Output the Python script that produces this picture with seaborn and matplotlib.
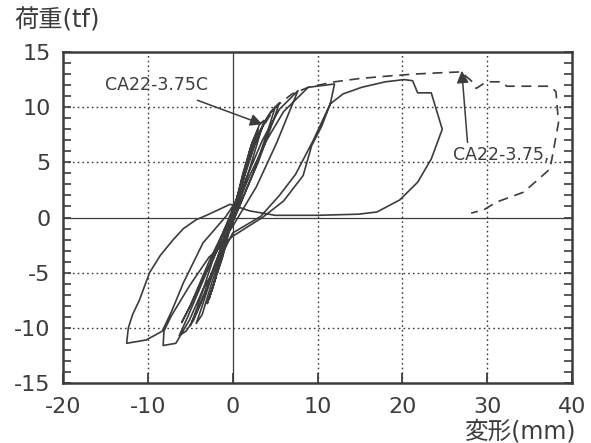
import matplotlib
matplotlib.use("Agg")
import matplotlib.pyplot as plt
import seaborn as sns
import pandas as pd
from matplotlib.ticker import MultipleLocator

# ---- data ----
solid_x = [0.0,
           0.8, 1.8, 1.3, 0.4, -0.4, -1.2, -1.8, -1.2, -0.4, 0.2,
           1.2, 2.3, 3.0, 2.3, 1.0, 0.0, -0.9, -2.0, -3.0, -2.3, -1.0, 0.0,
           1.0, 2.0, 2.8, 2.0, 0.8, -0.2, -1.2, -2.2, -2.8, -2.0, -0.8, 0.1,
           1.0, 2.2, 3.2, 3.7, 3.0, 1.6, 0.2, -1.0, -2.5, -3.6, -4.3, -3.5, -1.6, 0.0,
           1.2, 3.0, 4.5, 5.5, 4.8, 3.0, 1.2, 0.0, -1.2, -3.0, -4.6, -5.5, -6.3, -5.3, -3.2, -1.2, 0.0,
           1.0, 2.6, 4.0, 5.0, 4.2, 2.6, 0.8, -0.6, -2.2, -3.8, -5.0, -4.2, -2.4, -0.6, 0.4,
           1.5, 3.5, 5.5, 7.7, 7.0, 5.2, 2.8, 0.0, -1.5, -3.5, -5.0, -6.0, -5.0, -2.8, -0.6, 0.6,
           2.0, 4.0, 6.0, 8.9, 12.0, 11.5, 10.5, 9.3, 8.3, 6.0, 3.5, 0.0, -2.8, -5.1, -7.3, -8.1, -8.2,
           -6.7, -5.1, -3.5, -2.0, 0.0,
           3.3, 5.5, 7.4, 9.5, 11.5, 13.0, 15.2, 18.0, 20.2, 21.2, 21.8, 23.4, 24.7, 23.4, 21.8, 19.7,
           17.0, 14.8, 10.0, 5.0, 2.0, -0.3, -2.8, -4.3, -5.8, -7.0, -8.5, -9.8, -11.0, -11.8, -12.3,
           -12.5, -10.2, -8.3, -7.2, -5.8, -3.5, -0.8, 0.5]
solid_y = [0.0,
           2.6, 5.2, 3.8, 1.2, -1.0, -3.5, -5.0, -3.6, -1.2, 0.8,
           4.0, 6.8, 8.0, 6.2, 2.8, 0.0, -2.3, -5.5, -7.8, -6.2, -2.6, 0.4,
           3.0, 6.0, 7.6, 5.6, 2.2, -0.4, -3.0, -6.0, -7.4, -5.4, -2.0, 0.6,
           3.2, 6.6, 8.5, 8.8, 7.0, 3.4, 0.0, -2.4, -6.0, -8.8, -9.6, -7.8, -3.2, 0.6,
           3.5, 7.6, 9.6, 10.4, 8.8, 5.0, 1.8, -0.4, -2.6, -6.4, -9.3, -10.3, -10.7, -9.0, -5.2, -1.5, 0.8,
           2.8, 6.6, 9.0, 10.0, 8.0, 4.4, 1.0, -1.4, -4.4, -7.8, -9.8, -8.2, -4.0, -0.6, 1.0,
           3.4, 7.0, 9.8, 11.5, 10.2, 6.8, 2.8, -0.8, -2.5, -5.5, -8.0, -9.5, -8.0, -4.0, -0.5, 1.2,
           3.8, 7.0, 9.6, 11.8, 12.1, 10.3, 8.3, 6.5, 3.8, 1.5, 0.0, -1.7, -3.6, -6.2, -9.0, -10.3, -11.6,
           -11.4, -9.3, -6.5, -4.5, -1.4,
           0.1, 2.0, 3.9, 7.0, 10.3, 11.2, 11.8, 12.3, 12.5, 12.4, 11.3, 11.3, 8.0, 5.3, 3.2, 1.6,
           0.5, 0.3, 0.2, 0.2, 0.6, 1.2, 0.3, -0.2, -1.0, -2.0, -3.4, -5.0, -7.5, -8.8, -10.0,
           -11.4, -11.1, -10.3, -8.5, -5.9, -2.3, 0.1, 1.6]

dashed_x = [0.0, 1.5, 3.0, 5.0, 7.0, 8.9, 12.0, 15.0, 18.0, 21.4, 24.0, 26.9, 28.1, 28.7, 29.9,
            31.7, 32.3, 33.1, 37.4, 38.1, 38.4, 37.4, 34.3, 31.1, 29.6, 28.1]
dashed_y = [0.0, 4.5, 7.5, 10.0, 11.2, 11.8, 12.3, 12.6, 12.8, 13.0, 13.1, 13.2, 12.4, 11.7, 12.3,
            12.3, 11.9, 11.9, 11.9, 11.4, 8.6, 4.4, 2.3, 1.4, 0.7, 0.4]

x_ticks = [-20, -10, 0, 10, 20, 30, 40]
y_ticks = [-15, -10, -5, 0, 5, 10, 15]
label_c = "CA22-3.75C"
label_d = "CA22-3.75,"
y_title = "荷重(tf)"
x_title = "変形(mm)"

# ---- style ----
sns.set_theme(style="white")
plt.rcParams['font.family'] = ['DejaVu Sans', 'Noto Sans CJK JP']
ink = "#3c3c3c"

fig = plt.figure(figsize=(5.91, 4.43), dpi=100)
ax = fig.add_axes([0.1066, 0.1354, 0.8614, 0.7472])

df_s = pd.DataFrame({"x": solid_x, "y": solid_y})
df_d = pd.DataFrame({"x": dashed_x, "y": dashed_y})
sns.lineplot(data=df_s, x="x", y="y", sort=False, estimator=None, color=ink,
             linewidth=1.2, ax=ax)
sns.lineplot(data=df_d, x="x", y="y", sort=False, estimator=None, color=ink,
             linewidth=1.2, linestyle=(0, (6, 4)), ax=ax)

ax.set_xlim(-20, 40)
ax.set_ylim(-15, 15)
ax.set_xticks(x_ticks)
ax.set_yticks(y_ticks)
ax.set_xticklabels([str(t) for t in x_ticks])
ax.set_yticklabels([str(t) for t in y_ticks])
ax.yaxis.set_minor_locator(MultipleLocator(1))
ax.set_xlabel("")
ax.set_ylabel("")

# grid
for gx in x_ticks[1:-1]:
    if gx == 0:
        ax.axvline(gx, color=ink, lw=0.9, zorder=0)
    else:
        ax.axvline(gx, color=ink, lw=1.0, ls=(0, (1.2, 2.2)), zorder=0)
for gy in y_ticks[1:-1]:
    if gy == 0:
        ax.axhline(gy, color=ink, lw=0.9, zorder=0)
    else:
        ax.axhline(gy, color=ink, lw=1.0, ls=(0, (1.2, 2.2)), zorder=0)

for s in ax.spines.values():
    s.set_color(ink)
    s.set_linewidth(1.8)

ax.tick_params(axis="x", which="major", direction="in", length=7, width=1.3,
               color=ink, labelsize=16, labelcolor=ink, pad=10, top=False, bottom=True)
ax.tick_params(axis="y", which="both", direction="in", length=6, width=1.2,
               color=ink, labelsize=16, labelcolor=ink, pad=9, left=True, right=True)

# annotations
ax.annotate(label_c, xy=(3.5, 8.45), xytext=(-9.0, 12.0), fontsize=12.5, color=ink,
            ha="center", va="center",
            arrowprops=dict(arrowstyle="-|>", color=ink, lw=1.1, mutation_scale=18,
                            shrinkA=6, shrinkB=0))
ax.annotate(label_d, xy=(27.0, 13.3), xytext=(26.0, 5.7), fontsize=12.5, color=ink,
            ha="left", va="center",
            arrowprops=dict(arrowstyle="-|>", color=ink, lw=1.1, mutation_scale=18,
                            shrinkA=0, shrinkB=0, relpos=(0.15, 1.0)))

fig.text(0.025, 0.953, y_title, fontsize=17.5, color=ink, ha="left", va="center")
fig.text(0.975, 0.027, x_title, fontsize=17, color=ink, ha="right", va="center")

fig.savefig("out.png", dpi=100, facecolor="white")
